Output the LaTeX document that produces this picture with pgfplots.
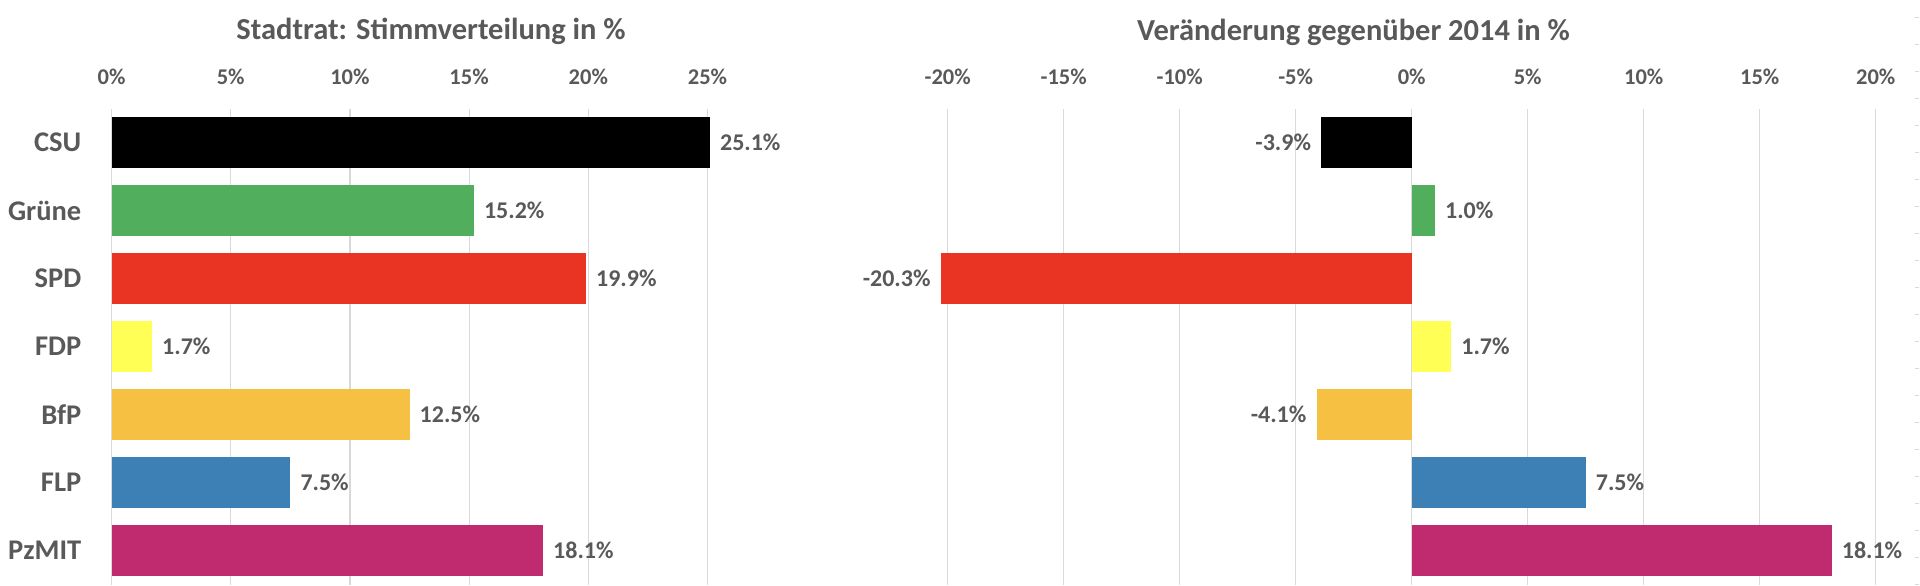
\documentclass[border=0pt]{standalone}
\usepackage{pgfplots}
\pgfplotsset{compat=1.18}
\usepackage{fontspec}
\setmainfont{Carlito}
\definecolor{txt}{HTML}{595959}
\definecolor{gridc}{HTML}{D9D9D9}
\definecolor{cCSU}{HTML}{000000}
\definecolor{cGRU}{HTML}{50AE5C}
\definecolor{cSPD}{HTML}{E93323}
\definecolor{cFDP}{HTML}{FFFF55}
\definecolor{cBFP}{HTML}{F6C143}
\definecolor{cFLP}{HTML}{3D80B6}
\definecolor{cPZM}{HTML}{C02A6F}
\newcommand{\tickfont}{\fontsize{22.5}{27}\selectfont\bfseries}
\newcommand{\labfont}{\fontsize{24}{28}\selectfont\bfseries}
\newcommand{\catfont}{\fontsize{28.5}{33}\selectfont\bfseries}
\newcommand{\titfont}{\fontsize{30.5}{36}\selectfont\bfseries}
\pgfplotsset{
  base/.style={
    xbar, bar shift=0pt, bar width=51pt,
    scale only axis, clip=false,
    y dir=reverse, ymin=-0.5, ymax=6.5, ytick={0,...,6},
    height=476pt,
    axis line style={draw=none}, major tick length=0pt,
    xmajorgrids, grid style={gridc, line width=1.2pt},
    xticklabel pos=upper,
    xticklabel style={font=\tickfont, text=txt, inner sep=0pt, anchor=south, yshift=24pt},
    point meta=x,
    nodes near coords={\pgfmathprintnumber[fixed,fixed zerofill,precision=1]{\pgfplotspointmeta}\%},
    nodes near coords style={font=\labfont, text=txt, inner sep=0pt},
    /pgf/number format/assume math mode=true,
  },
  pos/.style={fill=#1, draw=none, every node near coord/.append style={anchor=west, xshift=10pt}},
  neg/.style={fill=#1, draw=none, every node near coord/.append style={anchor=east, xshift=-10pt}},
}
\begin{document}
\begin{tikzpicture}
\useasboundingbox (0,0) rectangle (1920pt,586pt);
% left chart
\begin{axis}[base,
  at={(111.5pt,1.5pt)}, anchor=south west,
  width=596pt, xmin=0, xmax=25,
  xtick={0,5,10,15,20,25},
  xticklabels={0\%,5\%,10\%,15\%,20\%,25\%},
  yticklabels={CSU,Grüne,SPD,FDP,BfP,FLP,PzMIT},
  yticklabel style={font=\catfont, text=txt, anchor=east, inner sep=0pt, xshift=-30pt},
]
\addplot[pos=cCSU] coordinates {(25.1,0)};
\addplot[pos=cGRU] coordinates {(15.2,1)};
\addplot[pos=cSPD] coordinates {(19.9,2)};
\addplot[pos=cFDP] coordinates {(1.7,3)};
\addplot[pos=cBFP] coordinates {(12.5,4)};
\addplot[pos=cFLP] coordinates {(7.5,5)};
\addplot[pos=cPZM] coordinates {(18.1,6)};
\end{axis}
% right chart
\begin{axis}[base,
  at={(947.7pt,1.5pt)}, anchor=south west,
  width=928pt, xmin=-20, xmax=20,
  xtick={-20,-15,-10,-5,0,5,10,15,20},
  xticklabels={-20\%,-15\%,-10\%,-5\%,0\%,5\%,10\%,15\%,20\%},
  yticklabels={},
]
\addplot[neg=cCSU] coordinates {(-3.9,0)};
\addplot[pos=cGRU] coordinates {(1.0,1)};
\addplot[neg=cSPD] coordinates {(-20.3,2)};
\addplot[pos=cFDP] coordinates {(1.7,3)};
\addplot[neg=cBFP] coordinates {(-4.1,4)};
\addplot[pos=cFLP] coordinates {(7.5,5)};
\addplot[pos=cPZM] coordinates {(18.1,6)};
\end{axis}
\node[font=\titfont, text=txt, anchor=base, inner sep=0pt] at (431pt,546pt) {Stadtrat: Stimmverteilung in \%};
\node[font=\titfont, text=txt, anchor=base, inner sep=0pt] at (1353.5pt,545.5pt) {Veränderung gegenüber 2014 in \%};
\draw[gridc, line width=4pt, dash pattern=on 1pt off 26pt] (1917pt,569pt) -- (1917pt,0pt);
\end{tikzpicture}
\end{document}
